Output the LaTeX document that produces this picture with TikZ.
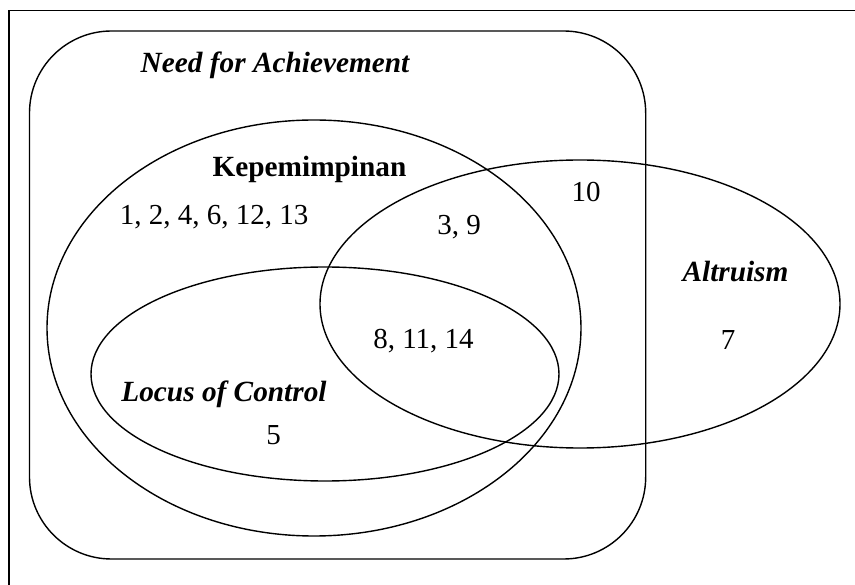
\documentclass[tikz,border=0pt]{standalone}
\usepackage{fontspec}
\setmainfont{Liberation Serif}
\usetikzlibrary{shapes.geometric}
\begin{document}
\begin{tikzpicture}[x=1pt,y=-1pt,
  shapeline/.style={line width=1.4pt},
  setshape/.style={draw, ellipse, inner sep=0pt, shapeline},
  lbl/.style={anchor=base, inner sep=0pt, font=\fontsize{29}{32}\selectfont},
  bilbl/.style={lbl, font=\fontsize{29.3}{32}\selectfont\bfseries\itshape},
  blbl/.style={lbl, font=\fontsize{29.3}{32}\selectfont\bfseries}]
\useasboundingbox (0,0) rectangle (855,585);
% frame
\draw[line width=1.9pt] (9,585) -- (9,10.5) -- (855,10.5);
% need for achievement
\draw[shapeline, rounded corners=82pt] (29.5,31) rectangle (645.7,559);
% ellipses
\node[setshape, minimum width=534pt, minimum height=416pt] (kep) at (314,328) {};
\node[setshape, minimum width=520pt, minimum height=288pt] (alt) at (580,304) {};
\node[setshape, minimum width=468pt, minimum height=214pt] (loc) at (325,374) {};
% labels
\node[bilbl] (tna) at (275,73) {Need for Achievement};
\node[blbl] (tkep) at (309.5,176.7) {Kepemimpinan};
\node[lbl] (n1) at (214,225) {1, 2, 4, 6, 12, 13};
\node[lbl] (n39) at (459,235) {3, 9};
\node[lbl] (n10) at (586,201.7) {10};
\node[bilbl] (talt) at (735.5,281.7) {Altruism};
\node[lbl] (n7) at (728,350) {7};
\node[lbl] (n8) at (423.5,349) {8, 11, 14};
\node[bilbl] (tloc) at (224,401.7) {Locus of Control};
\node[lbl] (n5) at (273.5,445) {5};
\end{tikzpicture}
\end{document}
